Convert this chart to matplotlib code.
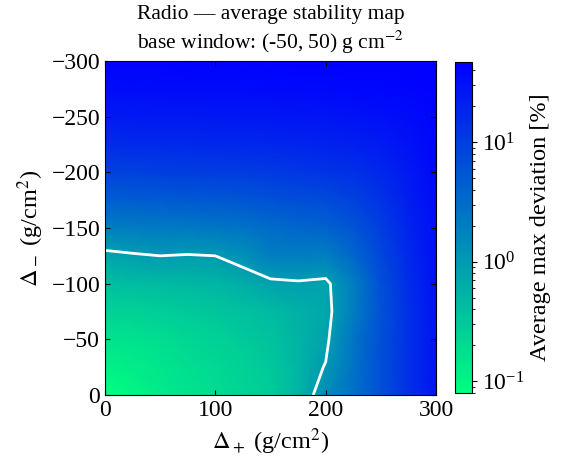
import numpy as np
import matplotlib
matplotlib.use("Agg")
import matplotlib.pyplot as plt
from matplotlib.colors import LogNorm

plt.rcParams['font.family'] = ['Liberation Serif', 'DejaVu Serif']
plt.rcParams['mathtext.fontset'] = 'stix'
plt.rcParams['font.size'] = 17
plt.rcParams['xtick.direction'] = 'in'
plt.rcParams['ytick.direction'] = 'in'
plt.rcParams['xtick.top'] = True
plt.rcParams['ytick.right'] = True

# grid of shifts (g/cm^2)
delta_plus = [0, 25, 50, 75, 100, 125, 150, 175, 200, 225, 250, 275, 300]
delta_minus = [0, -25, -50, -75, -100, -125, -150, -175, -200, -225, -250, -275, -300]

# log10 of average max deviation [%], rows follow delta_minus, columns delta_plus
log_dev = [
    [-1.10, -1.00, -0.88, -0.80, -0.72, -0.64, -0.55, -0.30, 0.15, 0.45, 0.80, 1.15, 1.45],
    [-0.95, -0.90, -0.82, -0.75, -0.68, -0.60, -0.50, -0.30, 0.02, 0.42, 0.80, 1.15, 1.45],
    [-0.80, -0.78, -0.72, -0.66, -0.60, -0.52, -0.44, -0.28, -0.10, 0.40, 0.80, 1.15, 1.45],
    [-0.60, -0.60, -0.56, -0.52, -0.48, -0.42, -0.36, -0.25, -0.15, 0.30, 0.78, 1.15, 1.47],
    [-0.40, -0.38, -0.36, -0.32, -0.30, -0.20, -0.10, -0.05, -0.10, 0.30, 0.80, 1.18, 1.48],
    [-0.12, -0.05, 0.00, -0.03, 0.00, 0.10, 0.30, 0.30, 0.28, 0.55, 0.90, 1.22, 1.50],
    [0.30, 0.32, 0.34, 0.36, 0.38, 0.42, 0.50, 0.55, 0.60, 0.75, 1.00, 1.28, 1.52],
    [0.65, 0.66, 0.68, 0.70, 0.72, 0.74, 0.78, 0.82, 0.86, 0.95, 1.12, 1.34, 1.55],
    [0.95, 0.96, 0.98, 1.00, 1.01, 1.02, 1.04, 1.07, 1.10, 1.15, 1.25, 1.40, 1.57],
    [1.20, 1.21, 1.22, 1.23, 1.24, 1.25, 1.26, 1.28, 1.30, 1.33, 1.38, 1.47, 1.60],
    [1.40, 1.40, 1.41, 1.41, 1.42, 1.42, 1.43, 1.44, 1.45, 1.47, 1.50, 1.54, 1.62],
    [1.55, 1.55, 1.55, 1.56, 1.56, 1.56, 1.57, 1.57, 1.58, 1.59, 1.60, 1.62, 1.65],
    [1.65, 1.65, 1.65, 1.66, 1.66, 1.66, 1.66, 1.67, 1.67, 1.67, 1.68, 1.68, 1.70],
]

X, Y = np.meshgrid(delta_plus, delta_minus)
Z = 10.0 ** np.array(log_dev)

fig = plt.figure(figsize=(5.65, 4.57), dpi=100)
ax = fig.add_axes([105 / 565, 1 - 395 / 457, 331 / 565, 334 / 457])
cax = fig.add_axes([455 / 565, 1 - 393 / 457, 17 / 565, 331 / 457])

norm = LogNorm(vmin=0.08, vmax=47)
mesh = ax.pcolormesh(X, Y, Z, cmap='winter_r', norm=norm, shading='gouraud')
ax.contour(X, Y, Z, levels=[1.0], colors='white', linewidths=2)

ax.set_xlim(0, 300)
ax.set_ylim(0, -300)
ax.set_xticks([0, 100, 200, 300])
ax.set_yticks([0, -50, -100, -150, -200, -250, -300])
ax.set_xlabel(r'$\Delta_+$ (g/cm$^2$)', fontsize=17.5)
ax.set_ylabel(r'$\Delta_-$ (g/cm$^2$)', fontsize=17.5)
ax.set_title('Radio \u2014 average stability map\nbase window: (-50, 50) g cm$^{-2}$',
             fontsize=15.5, linespacing=1.25, pad=9)

cb = fig.colorbar(mesh, cax=cax)
cb.set_label('Average max deviation [%]', fontsize=17.5)
cax.tick_params(which='both', direction='out', left=False, right=True)

fig.savefig('out.png', dpi=100)
